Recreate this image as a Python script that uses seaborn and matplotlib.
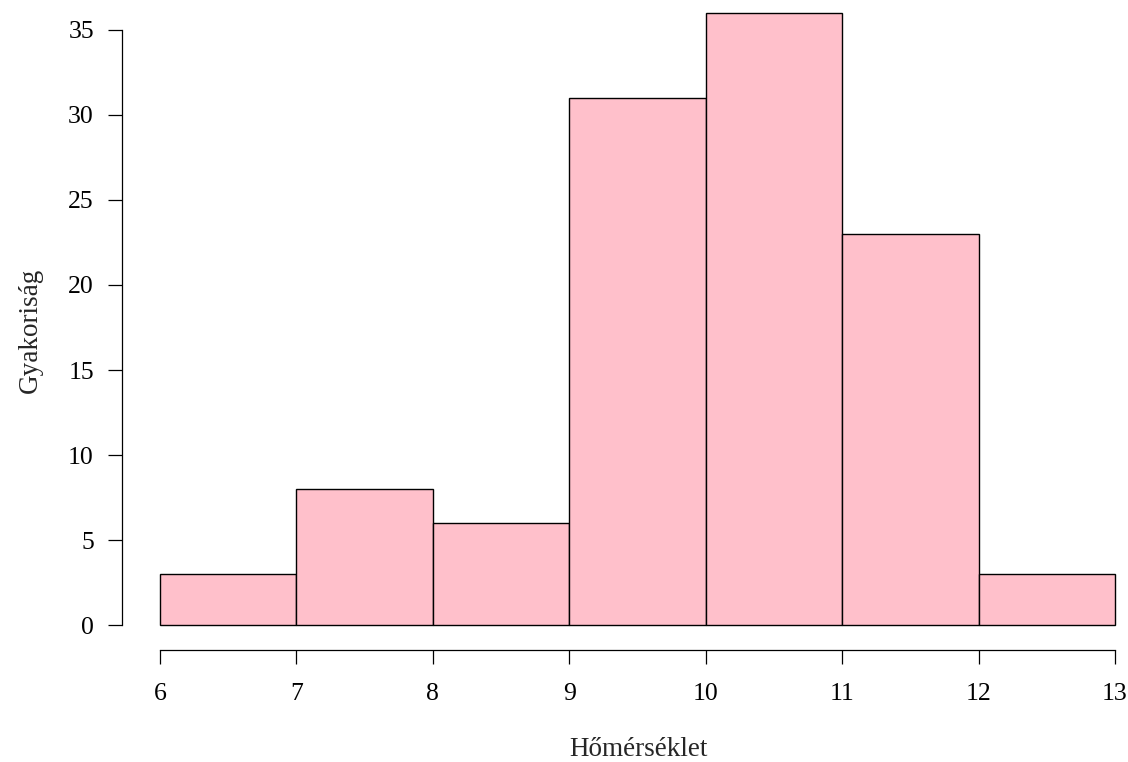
import matplotlib
matplotlib.use("Agg")
import matplotlib.pyplot as plt
import seaborn as sns
import numpy as np

bin_edges = [6, 7, 8, 9, 10, 11, 12, 13]
counts = [3, 8, 6, 31, 36, 23, 3]
x_ticks = [6, 7, 8, 9, 10, 11, 12, 13]
y_ticks = [0, 5, 10, 15, 20, 25, 30, 35]

sns.set_style("white")
plt.rcParams['font.family'] = ['Liberation Serif', 'DejaVu Serif']

W, H = 1128, 762
fig = plt.figure(figsize=(W / 100, H / 100), dpi=100)
left_px, right_px = 121.8, 1153.2
bottom_px, top_px = 649.5, -11.5
ax = fig.add_axes([left_px / W, (H - bottom_px) / H,
                   (right_px - left_px) / W, (bottom_px - top_px) / H])

mids = [(a + b) / 2 for a, b in zip(bin_edges[:-1], bin_edges[1:])]
sns.histplot(x=mids, weights=counts, bins=bin_edges, ax=ax,
             color="#FFC0CB", alpha=1, edgecolor="black", linewidth=1.0)

ax.set_xlim(5.72, 13.28)
ax.set_ylim(-1.44, 37.44)

for s in ["top", "right"]:
    ax.spines[s].set_visible(False)
ax.spines["left"].set_bounds(0, 35)
ax.spines["bottom"].set_bounds(6, 13)
for s in ["left", "bottom"]:
    ax.spines[s].set_linewidth(0.9)
    ax.spines[s].set_color("black")

ax.set_xticks(x_ticks)
ax.set_yticks(y_ticks)
ax.tick_params(axis="both", which="both", direction="out", length=10.1, width=0.9,
               color="black", labelsize=18.5, labelcolor="black",
               bottom=True, left=True)
ax.tick_params(axis="y", pad=10)
ax.tick_params(axis="x", pad=14)
ax.set_xlabel("")
ax.set_ylabel("")

fig.text(638 / W, 1 - 749 / H, "Hőmérséklet", ha="center", va="center", fontsize=19.5)
fig.text(30 / W, 1 - 330 / H, "Gyakoriság", ha="center", va="center", rotation=90, fontsize=19.5)

fig.savefig("out.png", dpi=100)
